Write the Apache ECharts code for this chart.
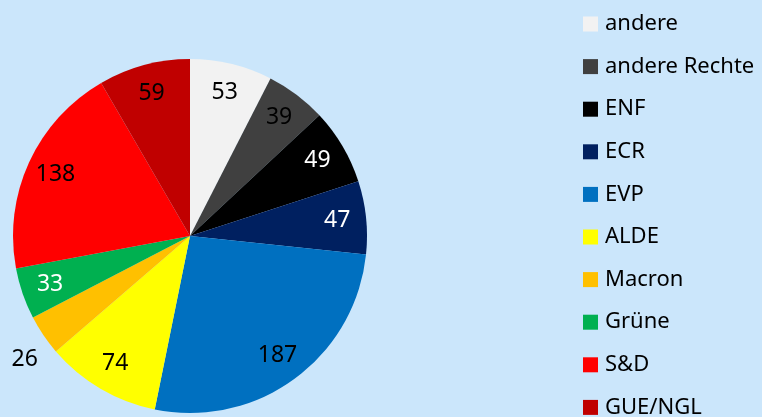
<!doctype html>
<html>
<head>
<meta charset="utf-8"/>
<title>Sitzverteilung</title>
<style>
  html, body { margin: 0; padding: 0; background: #cbe6fb; }
  #chart { width: 762px; height: 417px; }
</style>
</head>
<body>
<div id="chart"></div>
<script src="https://cdn.jsdelivr.net/npm/echarts@6/dist/echarts.min.js"></script>
<script>
const parties = ["andere", "andere Rechte", "ENF", "ECR", "EVP", "ALDE", "Macron", "Grüne", "S&D", "GUE/NGL"];
const seats = [53, 39, 49, 47, 187, 74, 26, 33, 138, 59];
const colors = ["#f2f2f2", "#404040", "#000000", "#002060", "#0070c0", "#ffff00", "#ffc000", "#00b050", "#ff0000", "#c00000"];
const labelColors = ["#000", "#000", "#fff", "#fff", "#000", "#000", "#000", "#fff", "#000", "#000"];
const outsideLabel = ["Macron"];

const chart = echarts.init(document.getElementById("chart"));
const font = "Noto Sans";
const center = [190, 236];

// slices
const pieData = parties.map((p, i) => ({
  name: p, value: seats[i], itemStyle: { color: colors[i] }
}));

// transparent rings that only carry the value labels
const ringData = (inside) => parties.map((p, i) => {
  const out = outsideLabel.indexOf(p) >= 0;
  return {
    name: p, value: seats[i],
    itemStyle: { color: "rgba(0,0,0,0)" },
    label: { show: inside ? !out : out, color: labelColors[i] }
  };
});

const labelStyle = { position: "inside", formatter: "{c}", fontFamily: font, fontSize: 23 };

chart.setOption({
  backgroundColor: "#cbe6fb",
  animation: false,
  legend: {
    orient: "vertical",
    left: 578, top: 8, height: 480,
    icon: "rect", itemWidth: 15, itemHeight: 15, itemGap: 20.6,
    data: parties,
    textStyle: { fontFamily: font, fontSize: 22, color: "#000", lineHeight: 22, padding: [0, 0, 0, 2] }
  },
  series: [
    {
      type: "pie", center: center, radius: [0, 177],
      startAngle: 90, clockwise: true,
      label: { show: false }, labelLine: { show: false },
      itemStyle: { borderWidth: 0 },
      emphasis: { disabled: true },
      data: pieData
    },
    {
      type: "pie", center: center, radius: [113, 177],
      startAngle: 90, clockwise: true, silent: true,
      label: labelStyle, labelLine: { show: false },
      legendHoverLink: false,
      data: ringData(true)
    },
    {
      // outside label for the small slice
      type: "pie", center: [197, 243], radius: [190, 220],
      startAngle: 90, clockwise: true, silent: true,
      label: labelStyle, labelLine: { show: false },
      legendHoverLink: false,
      data: ringData(false)
    }
  ]
});
</script>
</body>
</html>
